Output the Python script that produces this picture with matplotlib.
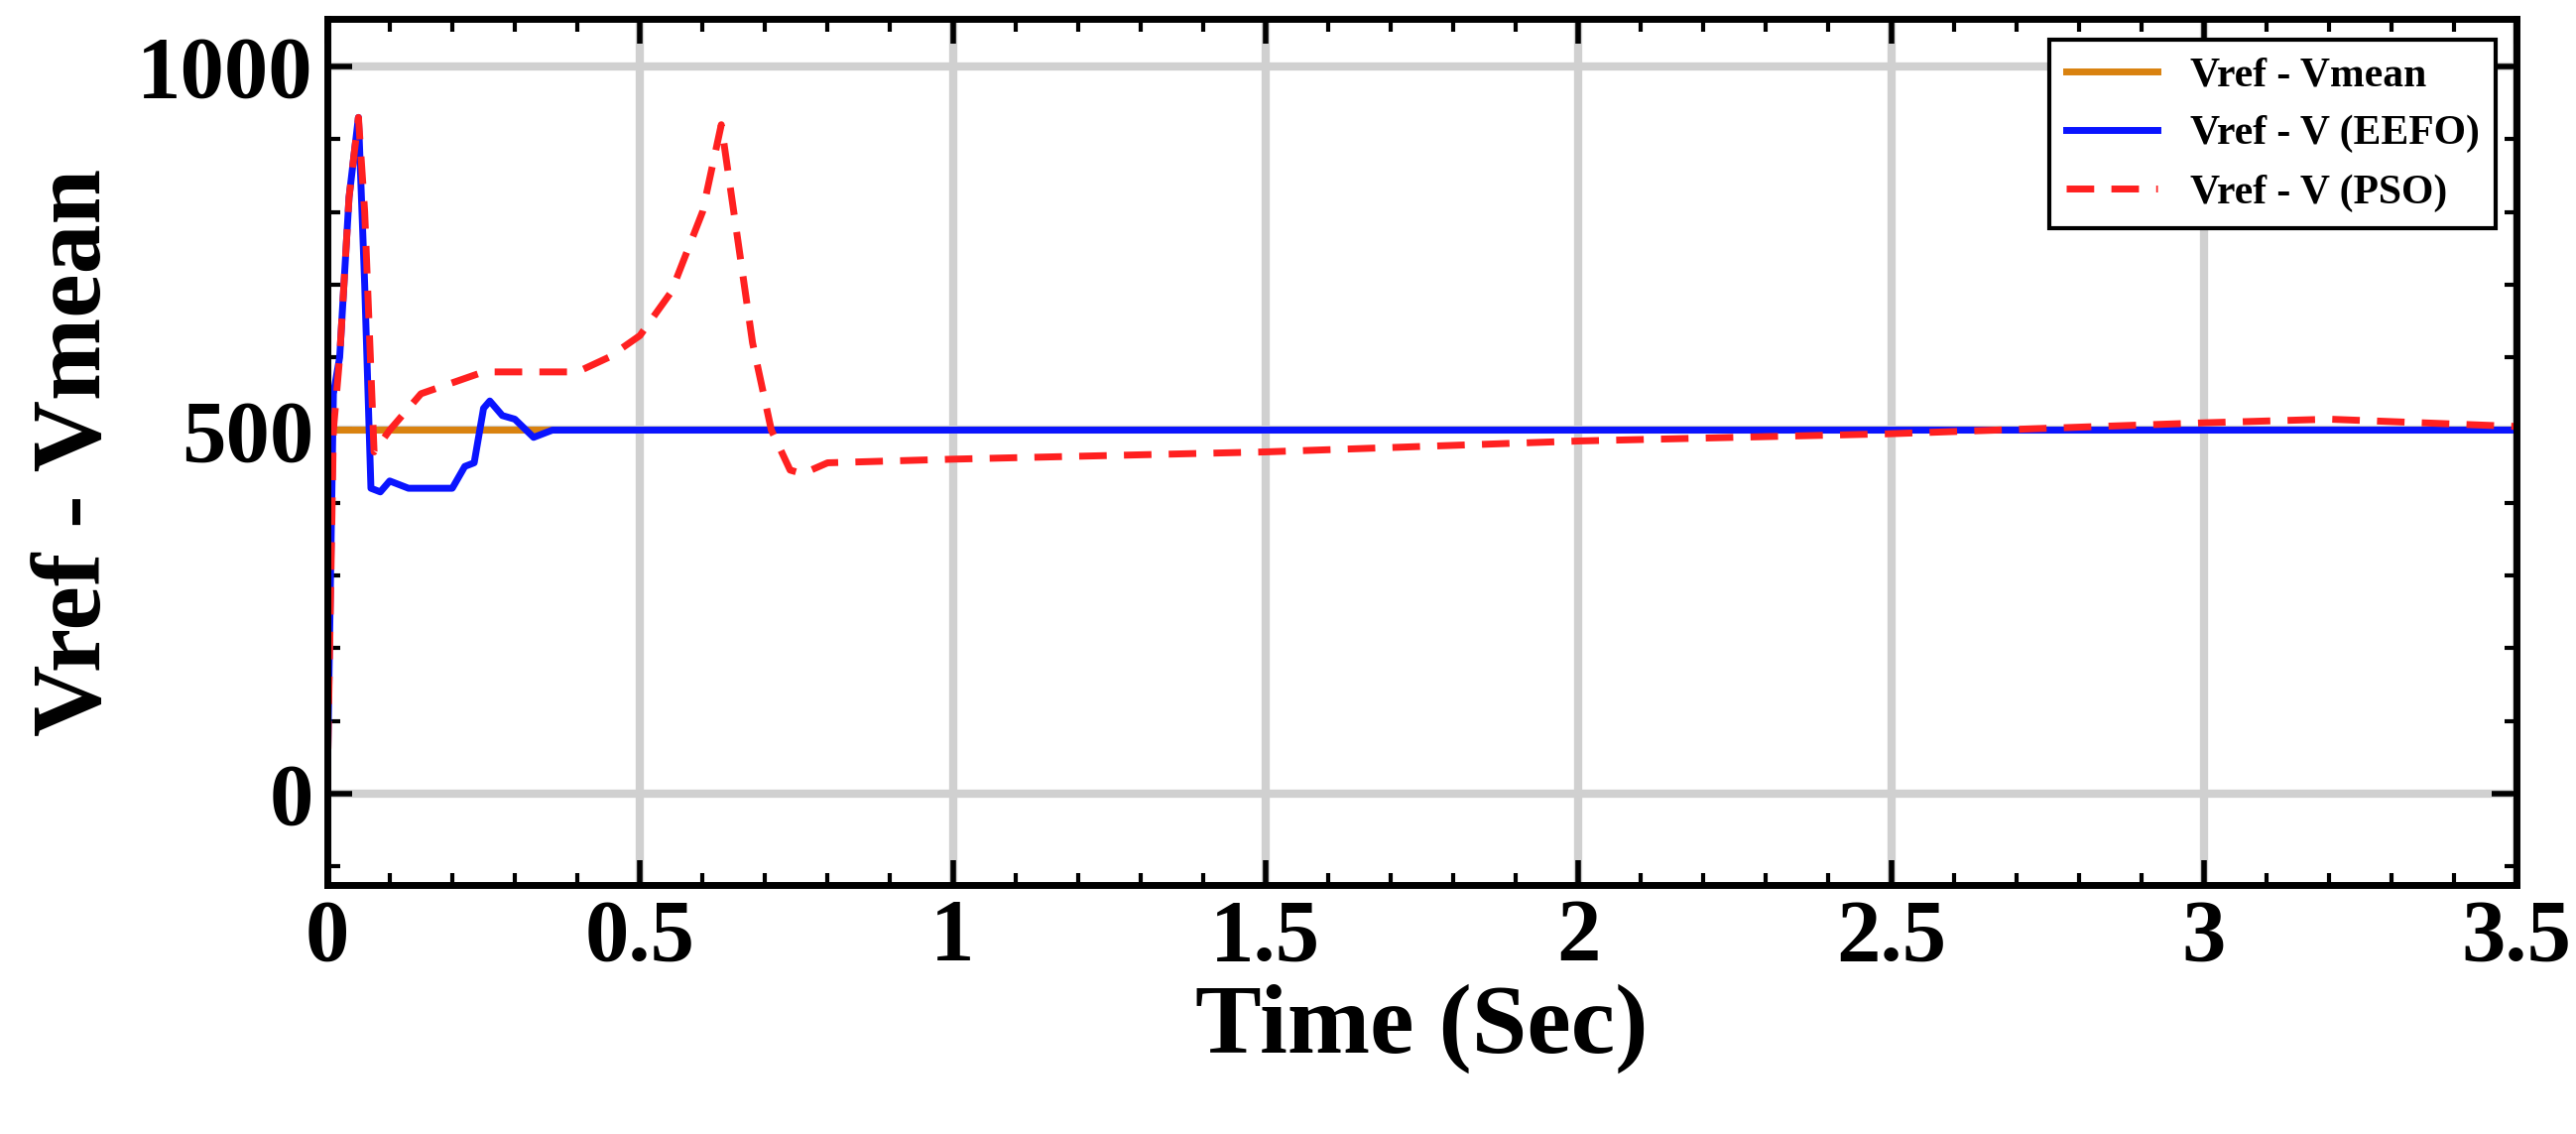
import matplotlib.pyplot as plt

plt.rcParams['font.family'] = ['Liberation Serif', 'DejaVu Serif']
plt.rcParams['font.weight'] = 'bold'

t_mean = [0, 3.5]
v_mean = [500, 500]

t_eefo = [0, 0.01, 0.02, 0.035, 0.05, 0.06, 0.07, 0.085, 0.1, 0.13, 0.16, 0.2, 0.22, 0.235, 0.25, 0.26, 0.28, 0.3, 0.33, 0.36, 0.4, 0.45, 1.0, 2.0, 3.0, 3.5]
v_eefo = [0, 550, 600, 820, 930, 700, 420, 415, 430, 420, 420, 420, 450, 455, 530, 540, 520, 515, 490, 500, 500, 500, 500, 500, 500, 500]

t_pso = [0, 0.01, 0.02, 0.035, 0.05, 0.06, 0.075, 0.1, 0.15, 0.25, 0.4, 0.45, 0.5, 0.55, 0.6, 0.63, 0.65, 0.68, 0.71, 0.74, 0.76, 0.8, 1.0, 1.5, 2.0, 2.5, 3.0, 3.2, 3.5]
v_pso = [0, 500, 600, 820, 930, 800, 470, 500, 550, 580, 580, 600, 630, 690, 800, 920, 800, 620, 500, 445, 440, 455, 460, 470, 485, 495, 510, 515, 505]

fig = plt.figure(figsize=(25.97, 11.43), dpi=100)
ax = fig.add_axes([0.127, 0.22, 0.85, 0.763])

ax.plot(t_mean, v_mean, color='#D9820F', lw=5, label='Vref - Vmean')
ax.plot(t_eefo, v_eefo, color='#0A14FF', lw=5, label='Vref - V (EEFO)')
ax.plot(t_pso, v_pso, color='#FF2020', lw=5, ls=(0, (4, 2.5)), label='Vref - V (PSO)')

ax.set_xlim(0, 3.5)
ax.set_ylim(-125, 1065)
ax.set_xticks([0, 0.5, 1, 1.5, 2, 2.5, 3, 3.5])
ax.set_xticklabels(['0', '0.5', '1', '1.5', '2', '2.5', '3', '3.5'])
ax.set_yticks([0, 500, 1000])
ax.minorticks_on()
ax.tick_params(which='major', direction='in', length=18, width=4, labelsize=64, top=True, right=True, pad=10)
ax.tick_params(which='minor', direction='in', length=9, width=3, top=True, right=True)
ax.grid(True, which='major', color='#D0D0D0', lw=6)
ax.set_axisbelow(True)
for s in ax.spines.values():
    s.set_linewidth(5)

ax.set_xlabel('Time (Sec)', fontsize=72, fontweight='bold', labelpad=4)
ax.set_ylabel('Vref - Vmean', fontsize=72, fontweight='bold', labelpad=12)

leg = ax.legend(loc='upper right', fontsize=30, fancybox=False, edgecolor='black', framealpha=1, handlelength=2.2)
leg.get_frame().set_linewidth(3)

fig.savefig('out.png', dpi=100)
